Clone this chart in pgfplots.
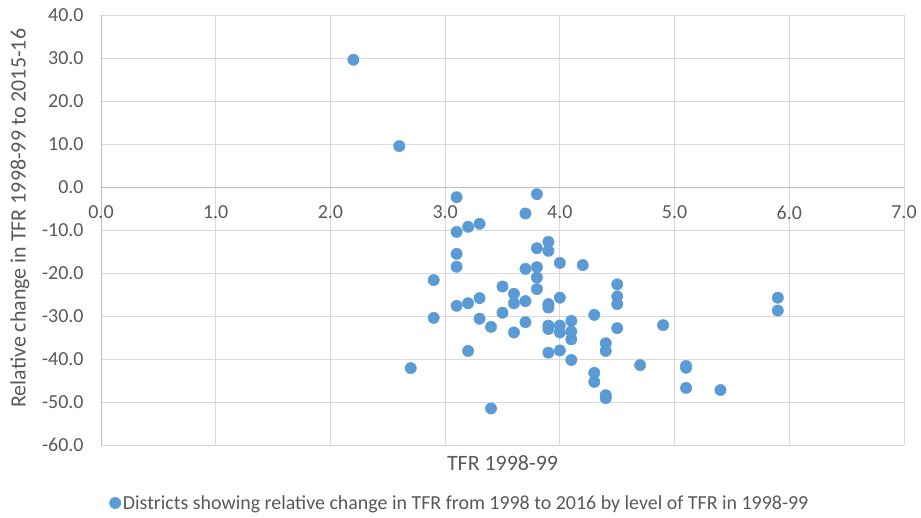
\documentclass[border=0pt]{standalone}
\usepackage{fontspec}
\setmainfont{Carlito}
\usepackage{pgfplots}
\pgfplotsset{compat=1.18}
\definecolor{pt}{HTML}{5B9BD5}
\definecolor{grd}{HTML}{D9D9D9}
\definecolor{axl}{HTML}{BFBFBF}
\definecolor{txt}{HTML}{595959}
\begin{document}
\begin{tikzpicture}
\path[use as bounding box] (0,0) rectangle (921bp,518bp);
\begin{axis}[
 at={(101bp,73bp)}, anchor=south west,
 scale only axis, width=803bp, height=429.5bp,
 xmin=0, xmax=7, ymin=-60, ymax=40,
 axis x line=middle, axis y line=left,
 hide obscured x ticks=false, hide obscured y ticks=false,
 axis line style={axl, -, line width=1bp},
 xtick={0,1,...,7}, ytick={-60,-50,...,40},
 xticklabels={0.0,1.0,2.0,3.0,4.0,5.0,6.0,7.0},
 yticklabels={-60.0,-50.0,-40.0,-30.0,-20.0,-10.0,0.0,10.0,20.0,30.0,40.0},
 grid=major, grid style={grd, line width=1bp},
 major tick length=0pt,
 tick label style={font=\fontsize{20}{24}\selectfont, text=txt},
 xticklabel style={yshift=-15bp},
 yticklabel style={xshift=-14bp},
 x label style={at={(axis description cs:0.5,0)}, anchor=center, yshift=-18bp, font=\fontsize{22}{26}\selectfont, text=txt},
 xlabel={TFR 1998-99},
 y label style={at={(axis description cs:-0.1009,0.528)}, anchor=center, rotate=0, font=\fontsize{22}{26}\selectfont, text=txt},
 ylabel={Relative change in TFR 1998-99 to 2015-16},
 legend style={draw=none, fill=none, at={(axis description cs:0.447,-0.135)}, anchor=center, font=\fontsize{20}{24}\selectfont, text=txt},
 clip=false,
]
\addplot[only marks, mark=*, mark size=5.7bp, mark options={fill=pt, draw=pt}] coordinates {
(2.2,29.7) (2.6,9.6) (2.7,-42.1) (2.9,-21.6) (2.9,-30.4)
(3.1,-2.3) (3.1,-10.4) (3.1,-15.5) (3.1,-18.5) (3.1,-27.6)
(3.2,-9.2) (3.2,-27.0) (3.2,-38.1)
(3.3,-8.5) (3.3,-25.8) (3.3,-30.6)
(3.4,-32.5) (3.4,-51.5)
(3.5,-23.1) (3.5,-29.2)
(3.6,-24.8) (3.6,-27.0) (3.6,-33.8)
(3.7,-6.1) (3.7,-19.0) (3.7,-26.5) (3.7,-31.4)
(3.8,-1.6) (3.8,-14.2) (3.8,-18.6) (3.8,-21.0) (3.8,-23.7)
(3.9,-12.7) (3.9,-14.8) (3.9,-27.2) (3.9,-28.0) (3.9,-32.2) (3.9,-33.0) (3.9,-38.5)
(4.0,-17.6) (4.0,-25.7) (4.0,-32.2) (4.0,-33.8) (4.0,-38.0)
(4.1,-31.1) (4.1,-33.6) (4.1,-35.4) (4.1,-40.2)
(4.2,-18.1)
(4.3,-29.7) (4.3,-43.2) (4.3,-45.3)
(4.4,-36.3) (4.4,-38.1) (4.4,-48.4) (4.4,-49.1)
(4.5,-22.6) (4.5,-25.4) (4.5,-27.2) (4.5,-32.8)
(4.7,-41.4) (4.9,-32.1)
(5.1,-41.6) (5.1,-42.0) (5.1,-46.7)
(5.4,-47.2) (5.9,-25.7) (5.9,-28.7)
};
\addlegendentry{Districts showing relative change in TFR from 1998 to 2016 by level of TFR in 1998-99}
\end{axis}
\end{tikzpicture}
\end{document}
